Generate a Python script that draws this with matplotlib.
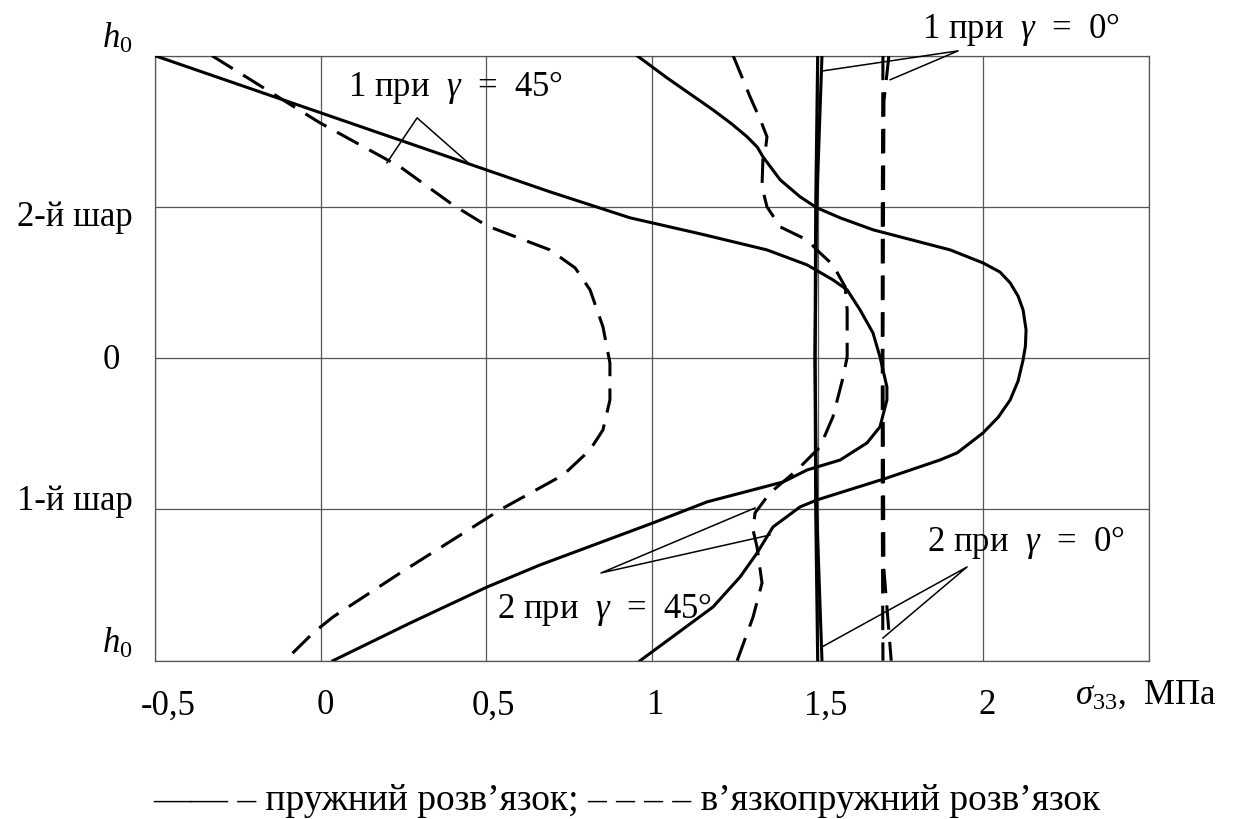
import matplotlib
matplotlib.use('Agg')
import matplotlib.pyplot as plt
from matplotlib.transforms import ScaledTranslation

plt.rcParams['font.family'] = ['Liberation Serif', 'DejaVu Serif']
plt.rcParams['mathtext.fontset'] = 'custom'
plt.rcParams['mathtext.rm'] = 'Liberation Serif'
plt.rcParams['mathtext.it'] = 'Liberation Serif:italic'
plt.rcParams['mathtext.bf'] = 'Liberation Serif:bold'

FS = 25

# sigma_33 (MPa) against layer height, gamma = 45 deg
elastic_45_1_x = [-0.5, 0.692, 0.934, 1.150, 1.347, 1.468, 1.546, 1.589, 1.628, 1.667, 1.688, 1.709, 1.709,
                  1.688, 1.649, 1.568, 1.468, 1.396, 1.166, 1.003, 0.662, 0.502, 0.270, 0.037]
elastic_45_1_y = [2.0, 1.10, 0.928, 0.820, 0.716, 0.617, 0.518, 0.452, 0.319, 0.167, 0.009, -0.19, -0.276,
                  -0.454, -0.56, -0.673, -0.739, -0.818, -0.95, -1.089, -1.367, -1.513, -1.751, -2.0]

visco_45_1_x = [-0.328, -0.114, -0.002, 0.240, 0.399, 0.502, 0.692, 0.768, 0.813, 0.852, 0.873, 0.873,
                0.852, 0.813, 0.732, 0.541, 0.460, 0.240, 0.037, -0.023, -0.108]
visco_45_1_y = [2.0, 1.708, 1.556, 1.265, 1.014, 0.875, 0.716, 0.597, 0.452, 0.207, -0.031, -0.276,
                -0.474, -0.606, -0.772, -1.003, -1.116, -1.420, -1.711, -1.817, -2.0]

elastic_45_2_x = [0.955, 1.045, 1.184, 1.240, 1.287, 1.318, 1.335, 1.387, 1.447, 1.498, 1.568, 1.667, 1.900,
                  1.999, 2.050, 2.081, 2.105, 2.120, 2.129, 2.127, 2.120, 2.105, 2.081, 2.045, 1.999, 1.921,
                  1.869, 1.709, 1.498, 1.447, 1.365, 1.317, 1.266, 1.184, 0.964]
elastic_45_2_y = [2.0, 1.854, 1.642, 1.550, 1.464, 1.395, 1.331, 1.179, 1.067, 0.994, 0.928, 0.849, 0.716,
                  0.630, 0.570, 0.498, 0.410, 0.319, 0.187, 0.080, -0.011, -0.150, -0.276, -0.390, -0.494,
                  -0.626, -0.673, -0.792, -0.937, -0.983, -1.116, -1.288, -1.446, -1.645, -2.0]

visco_45_2_x = [1.245, 1.296, 1.330, 1.347, 1.343, 1.335, 1.332, 1.347, 1.387, 1.468, 1.507, 1.546, 1.583,
                1.589, 1.589, 1.577, 1.546, 1.507, 1.438, 1.356, 1.311, 1.305, 1.317, 1.332, 1.305, 1.257]
visco_45_2_y = [2.0, 1.728, 1.560, 1.464, 1.390, 1.331, 1.133, 1.001, 0.868, 0.782, 0.696, 0.617, 0.472,
                0.319, 0.009, -0.124, -0.388, -0.587, -0.739, -0.891, -1.023, -1.136, -1.248, -1.486,
                -1.711, -2.0]

# gamma = 0 deg
elastic_0_1_x = [1.513, 1.497, 1.492, 1.494, 1.500]
elastic_0_1_y = [2.0, 1.0, 0.0, -1.0, -2.0]
elastic_0_2_x = [1.500, 1.494, 1.492, 1.497, 1.513]
elastic_0_2_y = [2.0, 1.0, 0.0, -1.0, -2.0]
visco_0_1_x = [1.715, 1.700, 1.697, 1.700, 1.722]
visco_0_1_y = [2.0, 1.7, 0.0, -1.4, -2.0]
visco_0_2_x = [1.697, 1.695, 1.695, 1.695, 1.697]
visco_0_2_y = [2.0, 1.0, 0.0, -1.0, -2.0]

x_ticks = [-0.5, 0, 0.5, 1, 1.5, 2, 2.5]
x_labels = ['-0,5', '0', '0,5', '1', '1,5', '2', '']
y_ticks = [-2, -1, 0, 1, 2]
y_labels = [r'$h_0$', '1-й шар', '0', '2-й шар', r'$h_0$']

fig = plt.figure(figsize=(12.41, 8.2), dpi=100)
ax = fig.add_axes([155 / 1241, 158.3 / 820, 994 / 1241, 605 / 820])
ax.set_xlim(-0.5, 2.5)
ax.set_ylim(-2, 2)

ax.set_xticks(x_ticks)
ax.set_xticklabels(x_labels, fontsize=FS)
ax.set_yticks(y_ticks)
ax.set_yticklabels(y_labels, fontsize=FS)
ax.tick_params(length=0)
ax.tick_params(axis='x', pad=20)
ax.tick_params(axis='y', pad=16)
ax.grid(True, color='#555555', lw=0.9)
for s in ax.spines.values():
    s.set_color('#555555')
    s.set_linewidth(0.9)

# nudge tick labels (pixels at 100 dpi)
xoff = [13, 5, 7, 4, 8, 4, 0]
for lab, dx in zip(ax.get_xticklabels(), xoff):
    lab.set_transform(lab.get_transform() + ScaledTranslation(dx / 100, 0, fig.dpi_scale_trans))
yoff = [(0, 9), (0, 0), (-13, -10), (0, -18), (0, 9)]
for lab, (dx, dy) in zip(ax.get_yticklabels(), yoff):
    lab.set_va('baseline')
    lab.set_transform(lab.get_transform() + ScaledTranslation(dx / 100, dy / 100, fig.dpi_scale_trans))

LW = 2.2
DASH = (0, (8, 4))
solid = dict(color='black', lw=LW, solid_joinstyle='round', zorder=3)
dashed = dict(color='black', lw=LW, linestyle=DASH, dash_joinstyle='round', zorder=3)

ax.plot(elastic_45_1_x, elastic_45_1_y, **solid)
ax.plot(visco_45_1_x, visco_45_1_y, **dashed)
ax.plot(elastic_45_2_x, elastic_45_2_y, **solid)
ax.plot(visco_45_2_x, visco_45_2_y, **dashed)
ax.plot(elastic_0_1_x, elastic_0_1_y, **solid)
ax.plot(elastic_0_2_x, elastic_0_2_y, **solid)
ax.plot(visco_0_1_x, visco_0_1_y, **dashed)
ax.plot(visco_0_2_x, visco_0_2_y, **dashed)

# callouts
lead = dict(color='black', lw=1.1, clip_on=False, zorder=4)
ax.plot([0.200, 0.291, 0.445], [1.292, 1.589, 1.292], **lead)
ax.plot([1.517, 1.924, 1.719], [1.900, 2.032, 1.841], **lead)
ax.plot([1.513, 1.951, 1.697], [-1.909, -1.380, -1.850], **lead)
ax.plot([1.311, 0.846, 1.356], [-0.990, -1.420, -1.169], **lead)

ax.text(0.083, 1.741, r'1 при  $\gamma$  =  45°', fontsize=FS, va='baseline', zorder=5)
ax.text(1.815, 2.125, r'1 при  $\gamma$  =  0°', fontsize=FS, va='baseline', clip_on=False)
ax.text(1.830, -1.266, r'2 при  $\gamma$  =  0°', fontsize=FS, va='baseline')
ax.text(0.532, -1.711, r'2 при  $\gamma$  =  45°', fontsize=FS, va='baseline')
ax.text(2.277, -2.28, r'$\sigma_{33}$,  МПа', fontsize=FS, va='baseline', clip_on=False)

fig.text(627 / 1241, 10 / 820, '—— – пружний розв’язок; – – – – в’язкопружний розв’язок',
         fontsize=27, ha='center', va='baseline')

fig.savefig('out.png', dpi=100)
